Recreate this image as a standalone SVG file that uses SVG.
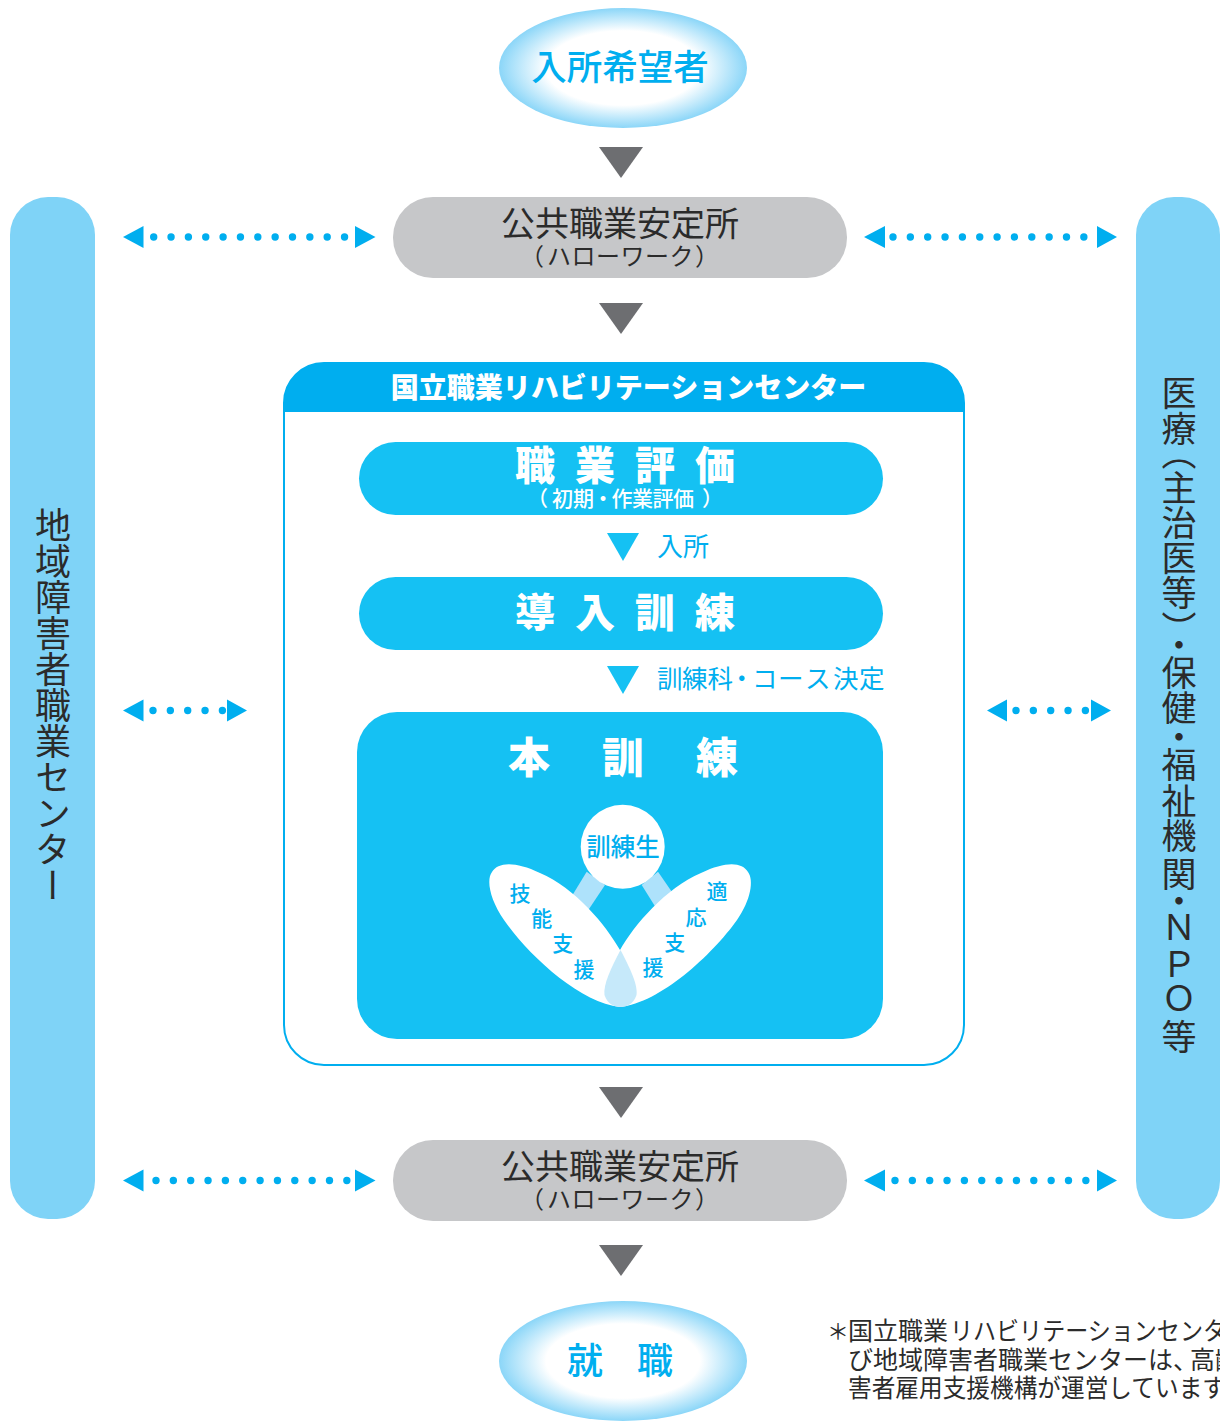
<svg xmlns="http://www.w3.org/2000/svg" width="1220" height="1421" viewBox="0 0 1220 1421">
<style>
text{font-family:"Noto Sans CJK JP","Noto Sans CJK SC",sans-serif}
.m{text-anchor:middle}
.dk{fill:#2b2b2b}
.bl{fill:#00aeef}
.wh{fill:#fff}
.b{font-weight:700}
.k{font-weight:900}
.md{font-weight:500}
.bar{fill:#7fd3f7}
.pill{fill:#c6c7c9}
.cy{fill:#15c1f3}
.gt{fill:#6d6e71}
.arr{fill:#00aeef}
.dots{stroke:#00aeef;stroke-width:7.4;stroke-linecap:round;stroke-dasharray:0 17.35;fill:none}
.lf{font-size:21px;font-weight:500;fill:#00aeef;text-anchor:middle}
.vt{writing-mode:vertical-rl;text-orientation:mixed;fill:#2b2b2b}
.h1{font-size:34px}
.h2{font-size:24px}
.fn{font-size:25px;fill:#2b2b2b}
</style>
<defs>
<radialGradient id="glow" cx="0.5" cy="0.5" r="0.5">
<stop offset="0.62" stop-color="#fff"/>
<stop offset="1" stop-color="#8bd6f8"/>
</radialGradient>
</defs>
<g id="applicant">
<ellipse cx="623" cy="68" rx="124" ry="60" fill="url(#glow)"/>
<text class="m bl md" x="620" y="80" font-size="35.500">入所希望者</text>
</g>
<g id="hello-work-1">
<rect class="pill" x="393" y="197" width="454" height="81" rx="40"/>
<text class="m dk h1" x="620" y="236">公共職業安定所</text>
<text class="dk h2" x="520 547 571.500 596 620.500 645 669.500 695" y="265">（ハローワーク）</text>
</g>
<g id="regional-center">
<rect class="bar" x="10" y="197" width="85" height="1022" rx="38"/>
<text class="vt" x="53" y="507" font-size="36">地域障害者職業センター</text>
</g>
<g id="medical-partners">
<rect class="bar" x="1136" y="197" width="84" height="1022" rx="38"/>
<text class="vt" x="1179" font-size="35" y="375.500 411 435 470 505 540.500 575.500 611 627.500 655 690.500 719.500 747 783 818 856 883 909.500 946.500 980.500 1019">医療（主治医等）・保健・福祉機関・ＮＰＯ等</text>
</g>
<g id="national-center">
<rect x="284" y="363" width="680" height="702" rx="40" fill="#fff" stroke="#00aeef" stroke-width="2"/>
<path d="M284 412V403A40 40 0 0 1 324 363H924A40 40 0 0 1 964 403V412Z" fill="#00aeef"/>
<text class="m wh k" x="628.500" y="398" font-size="28">国立職業リハビリテーションセンター</text>
</g>
<g id="vocational-evaluation">
<rect class="cy" x="359" y="442" width="524" height="73" rx="36.500"/>
<text class="wh k" x="515" y="480" font-size="40" letter-spacing="20">職業評価</text>
<text class="wh md" x="527 552 573 592.500 611.500 632 652.500 673 702" y="506" font-size="21">（初期・作業評価）</text>
</g>
<g id="label-admission">
<text class="bl" x="657" y="556" font-size="26">入所</text>
</g>
<g id="introductory-training">
<rect class="cy" x="359" y="577" width="524" height="73" rx="36.500"/>
<text class="wh k" x="515" y="627" font-size="40" letter-spacing="20">導入訓練</text>
</g>
<g id="label-course">
<text class="bl" x="657 682 707.500 729 752 778 805 833 859" y="688" font-size="25.500">訓練科・コース決定</text>
</g>
<g id="main-training">
<rect class="cy" x="357" y="712" width="526" height="327" rx="40"/>
<text class="wh k" x="508" y="773" font-size="42" letter-spacing="52">本訓練</text>
<polygon points="586.700,871.700 605,885 587,912 570.700,898" fill="#aee2fb"/>
<polygon points="658,871.700 641.700,885 656.700,909 674,895" fill="#aee2fb"/>
<path id="leaf-left" fill="#fff" d="M620 1007C580 1003 528 955 504 920C490 900 486 880 492 872C498 862 515 861 540 873C575 888 606 925 620 950L620 1007Z"/>
<path id="leaf-right" fill="#fff" d="M620 1007C660 1003 712 955 737 920C751 900 754 880 748 872C742 862 726 861 701 873C666 888 634 925 620 950L620 1007Z"/>
<path id="overlap" fill="#c6e9fa" d="M620.500 950C630 968 638 985 636.500 995C634 1003 628 1007 620.500 1007C613 1007 607 1003 604.500 995C603 985 611 968 620.500 950Z"/>
<circle cx="622.700" cy="846.700" r="42" fill="#fff"/>
<text class="m bl md" x="623" y="856" font-size="24.500">訓練生</text>
<text class="lf" x="520" y="900.500">技</text>
<text class="lf" x="541.700" y="925.500">能</text>
<text class="lf" x="562.700" y="950.500">支</text>
<text class="lf" x="584" y="976.500">援</text>
<text class="lf" x="717" y="898.500">適</text>
<text class="lf" x="696" y="924.500">応</text>
<text class="lf" x="674.700" y="949.500">支</text>
<text class="lf" x="653" y="974.500">援</text>
</g>
<g id="hello-work-2">
<rect class="pill" x="393" y="1140" width="454" height="81" rx="40"/>
<text class="m dk h1" x="620" y="1179">公共職業安定所</text>
<text class="dk h2" x="520 547 571.500 596 620.500 645 669.500 695" y="1208">（ハローワーク）</text>
</g>
<g id="employment">
<ellipse cx="623" cy="1361" rx="124" ry="60" fill="url(#glow)"/>
<text class="bl md" x="567" y="1374" font-size="36" letter-spacing="34">就職</text>
</g>
<g id="footnote">
<text class="fn" x="827" y="1339" style="font-size:22px">＊</text>
<text class="fn" x="848" y="1340" textLength="100" lengthAdjust="spacingAndGlyphs">国立職業</text>
<text class="fn" x="950" y="1340" textLength="276" lengthAdjust="spacingAndGlyphs">リハビリテーションセンタ</text>
<text class="fn" x="848" y="1369" textLength="325" lengthAdjust="spacingAndGlyphs">び地域障害者職業センターは</text>
<text class="fn" x="1173 1190 1215" y="1369">、高齢</text>
<text class="fn" x="848" y="1397" textLength="378" lengthAdjust="spacingAndGlyphs">害者雇用支援機構が運営しています</text>
</g>
<g id="connectors">
<polygon class="gt" points="599,147 643,147 621,178"/>
<polygon class="gt" points="599,303 643,303 621,334"/>
<polygon class="gt" points="599,1087 643,1087 621,1118"/>
<polygon class="gt" points="599,1245 643,1245 621,1276"/>
<polygon class="cy" points="607,533 639,533 623,561"/>
<polygon class="cy" points="607,666 639,666 623,694"/>
<polygon class="arr" points="123,237 143.500,226 143.500,248"/>
<line class="dots" x1="153.700" y1="237" x2="346" y2="237"/>
<polygon class="arr" points="375.500,237 355,226 355,248"/>
<polygon class="arr" points="864,237 885,226 885,248"/>
<line class="dots" x1="893" y1="237" x2="1086" y2="237"/>
<polygon class="arr" points="1117,237 1097,226 1097,248"/>
<polygon class="arr" points="123,710.500 143.500,699.500 143.500,721.500"/>
<line class="dots" x1="153" y1="710.500" x2="224" y2="710.500"/>
<polygon class="arr" points="247,710.500 227,699.500 227,721.500"/>
<polygon class="arr" points="987,710.500 1007,699.500 1007,721.500"/>
<line class="dots" x1="1016" y1="710.500" x2="1087" y2="710.500"/>
<polygon class="arr" points="1111,710.500 1091,699.500 1091,721.500"/>
<polygon class="arr" points="123,1180.500 143.500,1169.500 143.500,1191.500"/>
<line class="dots" x1="156" y1="1180.500" x2="348" y2="1180.500"/>
<polygon class="arr" points="375.500,1180.500 355,1169.500 355,1191.500"/>
<polygon class="arr" points="864,1180.500 885,1169.500 885,1191.500"/>
<line class="dots" x1="895" y1="1180.500" x2="1088" y2="1180.500"/>
<polygon class="arr" points="1117,1180.500 1097,1169.500 1097,1191.500"/>
</g>
</svg>
